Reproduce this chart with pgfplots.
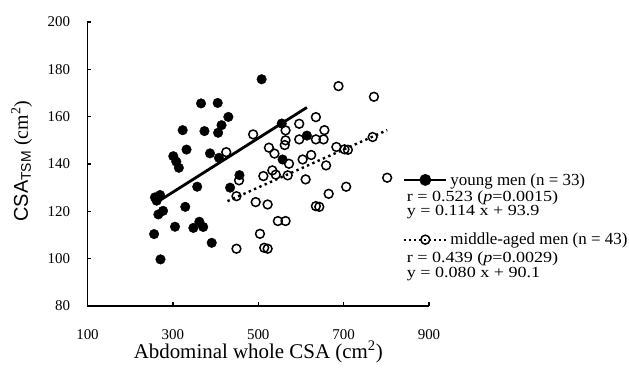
\documentclass[border=0pt]{standalone}
\usepackage{fontspec}
\setmainfont{Liberation Serif}
\setsansfont{Liberation Sans}
\newfontfamily\statfont[FakeStretch=1.17]{Liberation Serif}
\usepackage{pgfplots}
\pgfplotsset{compat=1.18}
\tikzset{stat/.style={anchor=base west, font=\statfont\fontsize{15.5}{15.5}\selectfont, inner sep=0pt, text height=10bp, text depth=3bp}}
\begin{document}
\begin{tikzpicture}
\useasboundingbox (-87.5bp,-65bp) rectangle (541.5bp,306bp);
\begin{axis}[
  at={(0,0)}, anchor=south west,
  scale only axis, width=341.5bp, height=284bp,
  xmin=100, xmax=900, ymin=80, ymax=200,
  axis lines*=left,
  axis line style={line width=1.6bp},
  xtick={100,300,500,700,900},
  ytick={80,100,120,140,160,180,200},
  tick align=inside,
  major tick length=4bp,
  tick style={line width=1.4bp, black},
  /pgf/number format/assume math mode=true,
  tick label style={font=\fontsize{15}{15}\selectfont},
  xticklabel style={yshift=-20bp},
  yticklabel style={xshift=-14bp},
  xlabel={Abdominal whole CSA (cm\textsuperscript{2})},
  xlabel style={font=\fontsize{21}{21}\selectfont, at={(axis description cs:0.5,0)}, anchor=base, yshift=-52bp},
  ylabel={{\sffamily CSA\textsubscript{TSM}} (cm\textsuperscript{2})},
  ylabel style={font=\fontsize{20}{20}\selectfont, at={(axis description cs:-0.193,0.51)}, anchor=center},
  clip=false,
  legend cell align=left,
  legend style={draw=none, fill=none, font=\fontsize{17}{17}\selectfont,
    at={(axis description cs:0.924,0.468)}, anchor=north west, inner sep=0pt,
    row sep=46.5bp, nodes={inner sep=0pt}},
  legend image code/.code={\draw[mark repeat=2,mark phase=2,#1] plot coordinates {(0bp,0bp) (21bp,0bp) (42bp,0bp)};},
]
% legend images
\addlegendimage{black, line width=2.2bp, mark=*, mark size=4.8bp, mark options={solid}}
\addlegendentry{\hspace{3bp}young men (n = 33)}
\addlegendimage{black, line width=2.2bp, dash pattern=on 2bp off 3bp, mark=o, mark size=4.5bp, mark options={solid, line width=1.5bp}}
\addlegendentry{\hspace{3bp}middle-aged men (n = 43)}

% young men (filled)
\addplot[only marks, mark=*, mark size=4.8bp, black, forget plot] coordinates {
(508,175.8) (366,165.6) (405,165.8) (430,159.9) (414,156.4) (406,153.2)
(323,154.3) (374,153.9) (332,146.1) (387,144.5) (408,142.6) (301,143.3)
(314,138.4) (308,141.0) (456,135.3) (434,130.0) (357,130.4) (258,125.9)
(270,126.9) (266,118.7) (277,120.2) (329,121.9) (256,110.4) (305,113.5)
(348,113.0) (362,115.6) (371,113.4) (391,106.7) (271,99.7) (555,157.1)
(614,152.0) (557,141.9) (262,124.5)
};
% middle-aged men (open)
\addplot[only marks, mark=o, mark size=4.4bp, black, mark options={line width=1.5bp, fill=white}, forget plot] coordinates {
(688,172.9) (771,168.4) (488,152.5) (596,157.0) (635,159.8) (564,154.2)
(564,150.0) (596,150.4) (635,150.4) (655,154.3) (653,150.4) (525,146.9)
(538,144.4) (683,147.2) (702,146.2) (710,146.0) (768,151.4) (604,141.9)
(624,143.8) (572,140.1) (533,137.3) (512,134.9) (569,135.2) (659,139.4)
(611,133.5) (802,134.2) (706,130.4) (665,127.4) (494,123.9) (522,122.9)
(635,122.2) (643,121.9) (546,115.9) (564,115.9) (504,110.5) (514,104.6)
(522,104.2) (449,104.2) (425,145.0) (455,133.1) (449,126.4) (562,148.0)
(541,135.5)
};
% regression lines
\addplot[black, line width=2.8bp, forget plot] coordinates {(257,123.2) (614,163.9)};
\addplot[black, line width=2.4bp, dash pattern=on 2.4bp off 3.4bp, forget plot] coordinates {(428,124.3) (802,154.3)};

% statistics text
\node[stat] at (axis description cs:0.9347,0.369) {r = 0.523 (\textit{p}=0.0015)};
\node[stat] at (axis description cs:0.9347,0.3187) {y = 0.114 x + 93.9};
\node[stat] at (axis description cs:0.9347,0.1542) {r = 0.439 (\textit{p}=0.0029)};
\node[stat] at (axis description cs:0.9347,0.1014) {y = 0.080 x + 90.1};
\end{axis}
\end{tikzpicture}
\end{document}
